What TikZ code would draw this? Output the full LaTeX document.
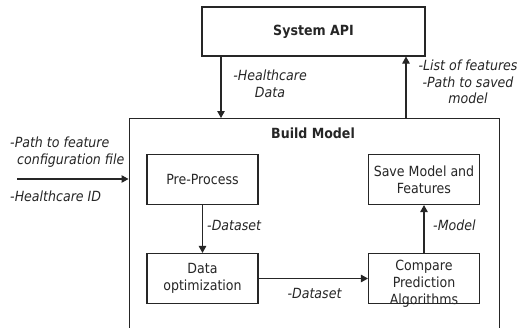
\documentclass[tikz,border=0pt]{standalone}
\usepackage{fontspec}
\setmainfont{DejaVu Sans Condensed}
\usetikzlibrary{arrows.meta,positioning}
\begin{document}
\begin{tikzpicture}[x=1pt,y=-1pt,
  every node/.style={font=\fontsize{14}{17}\selectfont, text=black!85},
  box/.style={draw=black!85, line width=1.1pt, minimum width=111pt, minimum height=50pt, inner sep=0pt, align=center},
  lbl/.style={font=\fontsize{14}{16.5}\selectfont\itshape, inner sep=0pt},
  flow/.style={draw=black!85, line width=1.1pt, -{Triangle[length=7pt,width=7.5pt]}}]
\clip (0,0) rectangle (521,327);
\fill[white] (0,0) rectangle (521,327);

% outer blocks
\node[box, minimum width=223pt, minimum height=49pt, font=\fontsize{14}{17}\selectfont\bfseries] (api) at (313.5,31.5) {System API};
\node[draw=black!85, line width=1.1pt, minimum width=370.5pt, minimum height=230pt, inner sep=0pt, anchor=north west] (build) at (128.5,118) {};
\node[font=\fontsize{14}{17}\selectfont\bfseries, inner sep=0pt] (buildtitle) at (313,133) {Build Model};

% inner steps
\node[box] (pre) at (202.5,179.5) {Pre-Process};
\node[box] (save) at (424,179.5) {Save Model and\\Features};
\node[box] (opt) at (202.5,278.5) {Data\\optimization};
\node[box] (cmp) at (424,278.5) {};
\node[align=center, inner sep=0pt] (cmptext) at (424,283.5) {Compare\\Prediction\\Algorithms};

% connectors between API and model builder
\draw[flow] (api.south -| 221,0) -- (build.north -| 221,0);
\draw[flow] (build.north -| 406,0) -- (api.south -| 406,0);
\node[lbl, align=center] (inlbl) at (270,84) {-Healthcare\\Data};
\node[lbl, align=center] (outlbl) at (468,82) {-List of features\\-Path to saved\\model};

% external inputs
\coordinate (src) at (17,179);
\draw[flow] (src) -- (build.west |- src);
\node[lbl, align=left, anchor=west] (cfglbl) at (10,152) {-Path to feature\\\hspace*{7pt}configuration file};
\node[lbl, anchor=west] (idlbl) at (10,196) {-Healthcare ID};

% internal pipeline
\draw[flow] (pre) -- (opt);
\node[lbl, anchor=west] (ds1) at (207,225) {-Dataset};
\draw[flow] (opt.east) -- (cmp.west);
\node[lbl] (ds2) at (314.5,293) {-Dataset};
\draw[flow] (cmp) -- (save);
\node[lbl, anchor=west] (mdl) at (433,225) {-Model};
\end{tikzpicture}
\end{document}
